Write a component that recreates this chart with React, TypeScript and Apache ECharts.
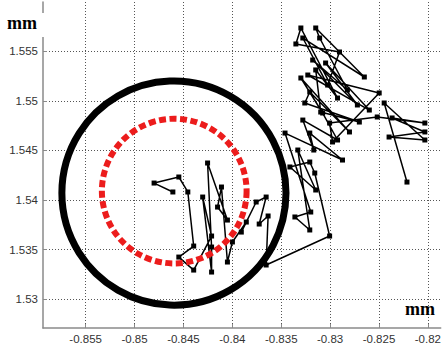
import React, { useEffect, useRef } from "react";
import * as echarts from "echarts";

// Trajectory samples (mm)
const trajX = [
  -0.84608, -0.848, -0.84547, -0.84455, -0.84395, -0.84547, -0.84395, -0.84212, -0.84303, -0.84212,
  -0.84212, -0.84253, -0.8405, -0.84151, -0.84111, -0.8405, -0.83999, -0.83857, -0.83908, -0.83756,
  -0.83654, -0.83725, -0.83634, -0.83654, -0.83005, -0.83157, -0.83208, -0.83411, -0.83147, -0.8333,
  -0.83208, -0.8336, -0.83198, -0.83461, -0.82873, -0.83208, -0.83167, -0.83279, -0.82924, -0.83076,
  -0.83299, -0.82802, -0.83208, -0.83259, -0.82701, -0.83096, -0.83147, -0.82924, -0.83299, -0.8335,
  -0.82904, -0.83025, -0.83279, -0.8265, -0.83147, -0.83107, -0.82823, -0.83178, -0.82721, -0.83046,
  -0.82599, -0.83228, -0.82498, -0.82975, -0.83005, -0.82518, -0.82031, -0.82366, -0.82031, -0.82397,
  -0.82031, -0.82447, -0.82214,
];
const trajY = [
  1.54081, 1.54171, 1.54232, 1.54081, 1.53536, 1.53425, 1.53294, 1.53637, 1.5403, 1.53274,
  1.53526, 1.54373, 1.53798, 1.53929, 1.54131, 1.53375, 1.53577, 1.53778, 1.53677, 1.5398,
  1.5403, 1.53758, 1.53839, 1.53345, 1.53637, 1.54272, 1.54383, 1.54333, 1.54101, 1.54504,
  1.53698, 1.53829, 1.53879, 1.54675, 1.54403, 1.54675, 1.54504, 1.54806, 1.54605, 1.54877,
  1.5523, 1.54686, 1.55089, 1.54978, 1.54786, 1.54887, 1.55311, 1.55028, 1.55734, 1.55573,
  1.55492, 1.55159, 1.55633, 1.5524, 1.55734, 1.55633, 1.55109, 1.55411, 1.54958, 1.55381,
  1.54907, 1.5526, 1.55079, 1.54585, 1.54776, 1.54837, 1.54776, 1.54827, 1.54686, 1.54635,
  1.54605, 1.54978, 1.54181,
];

// Circles: centre x, centre y, radius
const circleCx = [-0.84597, -0.84594];
const circleCy = [1.5407, 1.5409];
const circleR = [0.01146, 0.0074];

const xRange = [-0.85936, -0.81869];
const yRange = [1.5271, 1.55996];
const unitLabel = "mm";

export default function App() {
  const ref = useRef<HTMLDivElement>(null);
  useEffect(() => {
    if (!ref.current) return;
    const chart = echarts.init(ref.current, null, { renderer: "svg" });
    const traj = trajX.map((x, i) => [x, trajY[i]]);
    const circles = circleCx.map((x, i) => [x, circleCy[i], circleR[i], i]);
    const gridLine = { show: true, showMinLine: false, showMaxLine: false, lineStyle: { color: "#555", type: [1, 2], width: 1 } };
    const axisLine = { show: true, lineStyle: { color: "#8a8a8a", width: 1.5 } };
    const labelStyle = { color: "#333", fontFamily: "Liberation Sans, Arial", fontSize: 11.5 };
    chart.setOption({
      animation: false,
      backgroundColor: "#fff",
      grid: { left: 43, right: 0, top: 2, bottom: 17, containLabel: false },
      xAxis: {
        type: "value",
        min: xRange[0],
        max: xRange[1],
        splitNumber: 8,
        axisLine,
        axisTick: { show: true, inside: true, length: 4, lineStyle: { color: "#8a8a8a" } },
        axisLabel: { ...labelStyle, margin: 5, showMinLabel: false, showMaxLabel: false },
        splitLine: gridLine,
      },
      yAxis: {
        type: "value",
        min: yRange[0],
        max: yRange[1],
        splitNumber: 6,
        axisLine,
        axisTick: { show: true, inside: true, length: 4, lineStyle: { color: "#8a8a8a" } },
        axisLabel: { ...labelStyle, margin: 5, showMinLabel: false, showMaxLabel: false },
        splitLine: gridLine,
      },
      series: [
        {
          type: "line",
          data: traj,
          symbol: "rect",
          symbolSize: 5,
          showAllSymbol: true,
          clip: false,
          itemStyle: { color: "#000" },
          lineStyle: { color: "#000", width: 1.5 },
          z: 3,
        },
        {
          type: "custom",
          data: circles,
          clip: false,
          z: 5,
          renderItem: (params: any, api: any) => {
            const c = api.coord([api.value(0), api.value(1)]);
            const s = api.size([api.value(2), api.value(2)]);
            const isRed = api.value(3) === 1;
            return {
              type: "circle",
              shape: { cx: c[0], cy: c[1], r: s[0] },
              style: isRed
                ? { fill: "none", stroke: "#ec1c1c", lineWidth: 6, lineDash: [7, 3.5] }
                : { fill: "none", stroke: "#000", lineWidth: 7 },
            };
          },
        },
      ],
      graphic: [
        { type: "rect", z: 100, shape: { x: 40, y: 13, width: 6, height: 24 }, style: { fill: "#fff" } },
        {
          type: "text",
          z: 101,
          left: 7,
          top: 14,
          style: { text: unitLabel, fontFamily: "Liberation Serif, Times New Roman", fontWeight: "bold", fontSize: 18, fill: "#000" },
        },
        {
          type: "text",
          z: 101,
          left: 405,
          top: 300,
          style: { text: unitLabel, fontFamily: "Liberation Serif, Times New Roman", fontWeight: "bold", fontSize: 18, fill: "#000" },
        },
      ],
    });
    return () => chart.dispose();
  }, []);
  return <div ref={ref} style={{ position: "fixed", left: 0, top: 0, width: 444, height: 345 }} />;
}
